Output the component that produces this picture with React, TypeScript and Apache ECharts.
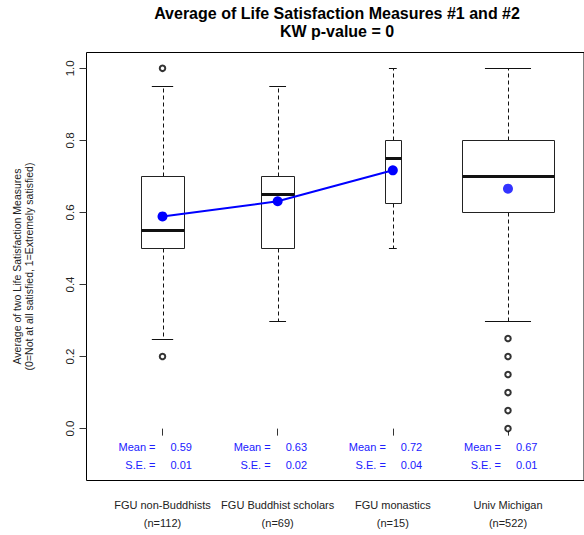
import React, { useEffect, useRef } from "react";
import * as echarts from "echarts";

const categories = ["FGU non-Buddhists", "FGU Buddhist scholars", "FGU monastics", "Univ Michigan"];
const sampleSizes = [112, 69, 15, 522];
const whiskerLow = [0.25, 0.3, 0.5, 0.3];
const q1 = [0.5, 0.5, 0.625, 0.6];
const medians = [0.55, 0.65, 0.75, 0.7];
const q3 = [0.7, 0.7, 0.8, 0.8];
const whiskerHigh = [0.95, 0.95, 1.0, 1.0];
const means = [0.589, 0.631, 0.717, 0.666];
const stdErrors = [0.01, 0.02, 0.04, 0.01];
const outliers: number[][] = [[0.2, 1.0], [], [], [0.25, 0.2, 0.15, 0.1, 0.05, 0.0]];
const yTicks = [0, 0.2, 0.4, 0.6, 0.8, 1.0];
const xTicks = [1, 2, 3, 4];

const FONT = "'Liberation Sans', Arial, Helvetica, sans-serif";

export default function App() {
  const ref = useRef<HTMLDivElement>(null);
  useEffect(() => {
    if (!ref.current) return;
    const chart = echarts.init(ref.current, undefined, { renderer: "svg" });
    const maxRoot = Math.sqrt(Math.max(...sampleSizes));
    const boxData = categories.map((_, i) => [
      i + 1,
      whiskerLow[i],
      q1[i],
      medians[i],
      q3[i],
      whiskerHigh[i],
      (0.8 * Math.sqrt(sampleSizes[i])) / maxRoot,
      means[i],
      stdErrors[i],
    ]);
    const outlierData = outliers.flatMap((arr, i) => arr.map((v) => [i + 1, v]));
    const crisp = (v: number) => Math.round(v) + 0.5;

    const renderItem = (params: any, api: any) => {
      const x = api.value(0);
      const wl = api.value(1);
      const b1 = api.value(2);
      const md = api.value(3);
      const b3 = api.value(4);
      const wh = api.value(5);
      const w = api.value(6);
      const mean = api.value(7);
      const se = api.value(8);
      const px = (v: number) => api.coord([v, 0])[0];
      const py = (v: number) => api.coord([x, v])[1];
      const cx = crisp(px(x));
      const left = crisp(px(x - w / 2));
      const right = crisp(px(x + w / 2));
      const capL = px(x - w / 4);
      const capR = px(x + w / 4);
      const line = (x1: number, y1: number, x2: number, y2: number, lw: number, dash?: number[]) => ({
        type: "line",
        shape: { x1, y1, x2, y2 },
        style: { stroke: "#111", lineWidth: lw, lineDash: dash },
      });
      const txt = (t: string, tx: number, ty: number, align: string) => ({
        type: "text",
        style: {
          text: t,
          x: tx,
          y: ty,
          align,
          verticalAlign: "middle",
          fill: "#2020ff",
          fontSize: 11,
          fontFamily: FONT,
        },
      });
      const cxr = px(x);
      return {
        type: "group",
        children: [
          line(cx, crisp(py(b3)), cx, crisp(py(wh)), 1, [4, 3]),
          line(cx, crisp(py(b1)), cx, crisp(py(wl)), 1, [4, 3]),
          line(capL, crisp(py(wh)), capR, crisp(py(wh)), 1),
          line(capL, crisp(py(wl)), capR, crisp(py(wl)), 1),
          {
            type: "rect",
            shape: { x: left, y: crisp(py(b3)), width: right - left, height: crisp(py(b1)) - crisp(py(b3)) },
            style: { fill: "#fff", stroke: "#222", lineWidth: 1 },
          },
          line(left, crisp(py(md)), right, crisp(py(md)), 3),
          txt("Mean =", cxr - 7, py(-0.05), "right"),
          txt(mean.toFixed(2), cxr + 8, py(-0.05), "left"),
          txt("S.E. =", cxr - 7, py(-0.1), "right"),
          txt(se.toFixed(2), cxr + 8, py(-0.1), "left"),
        ],
      };
    };

    chart.setOption({
      animation: false,
      textStyle: { fontFamily: FONT },
      grid: {
        left: 86.5,
        top: 52.5,
        width: 501,
        height: 428,
        show: true,
        borderColor: "#000",
        borderWidth: 1,
        backgroundColor: "transparent",
      },
      xAxis: {
        type: "value",
        min: 0.34,
        max: 4.66,
        axisLine: { show: false },
        splitLine: { show: false },
        axisTick: { show: true, customValues: xTicks, length: 7, lineStyle: { color: "#333" } },
        axisLabel: {
          customValues: xTicks,
          formatter: (v: number) => {
            const i = Math.round(v) - 1;
            return `${categories[i]}\n(n=${sampleSizes[i]})`;
          },
          fontSize: 11,
          color: "#222",
          margin: 15,
          lineHeight: 18,
          fontFamily: FONT,
        },
      },
      yAxis: {
        type: "value",
        min: -0.144,
        max: 1.044,
        axisLine: { show: false },
        splitLine: { show: false },
        axisTick: { show: true, customValues: yTicks, length: 7, lineStyle: { color: "#333" } },
        axisLabel: {
          customValues: yTicks,
          rotate: 90,
          formatter: (v: number) => v.toFixed(1),
          fontSize: 11.5,
          color: "#222",
          margin: 11,
          fontFamily: FONT,
        },
      },
      graphic: [
        {
          type: "text",
          x: 337,
          y: 13,
          style: {
            text: "Average of Life Satisfaction Measures #1 and #2",
            align: "center",
            verticalAlign: "middle",
            fontSize: 16,
            fontWeight: "bold",
            fill: "#000",
            fontFamily: FONT,
          },
        },
        {
          type: "text",
          x: 337,
          y: 31,
          style: {
            text: "KW p-value = 0",
            align: "center",
            verticalAlign: "middle",
            fontSize: 16,
            fontWeight: "bold",
            fill: "#000",
            fontFamily: FONT,
          },
        },
        {
          type: "text",
          x: 23,
          y: 266.5,
          rotation: Math.PI / 2,
          style: {
            text: "Average of two Life Satisfaction Measures\n(0=Not at all satisfied, 1=Extremely satisfied)",
            align: "center",
            verticalAlign: "middle",
            fontSize: 10.5,
            lineHeight: 12,
            fill: "#222",
            fontFamily: FONT,
          },
        },
      ],
      series: [
        {
          type: "custom",
          renderItem,
          data: boxData,
          encode: { x: 0, y: [1, 5] },
          z: 2,
        },
        {
          type: "line",
          data: means.slice(0, 3).map((m, i) => [i + 1, m]),
          symbol: "circle",
          symbolSize: 10,
          itemStyle: { color: "#0000ff" },
          lineStyle: { color: "#0000ff", width: 2 },
          z: 3,
        },
        {
          type: "scatter",
          data: [[4, means[3]]],
          symbol: "circle",
          symbolSize: 10,
          itemStyle: { color: "#0000ff" },
          z: 4,
        },
        {
          type: "scatter",
          data: outlierData,
          symbol: "emptyCircle",
          symbolSize: 5.5,
          itemStyle: { color: "#000", borderColor: "#000", borderWidth: 1.3 },
          z: 4,
        },
      ],
    });
    return () => chart.dispose();
  }, []);
  return <div ref={ref} style={{ position: "absolute", left: 0, top: 0, width: 584, height: 535 }} />;
}
